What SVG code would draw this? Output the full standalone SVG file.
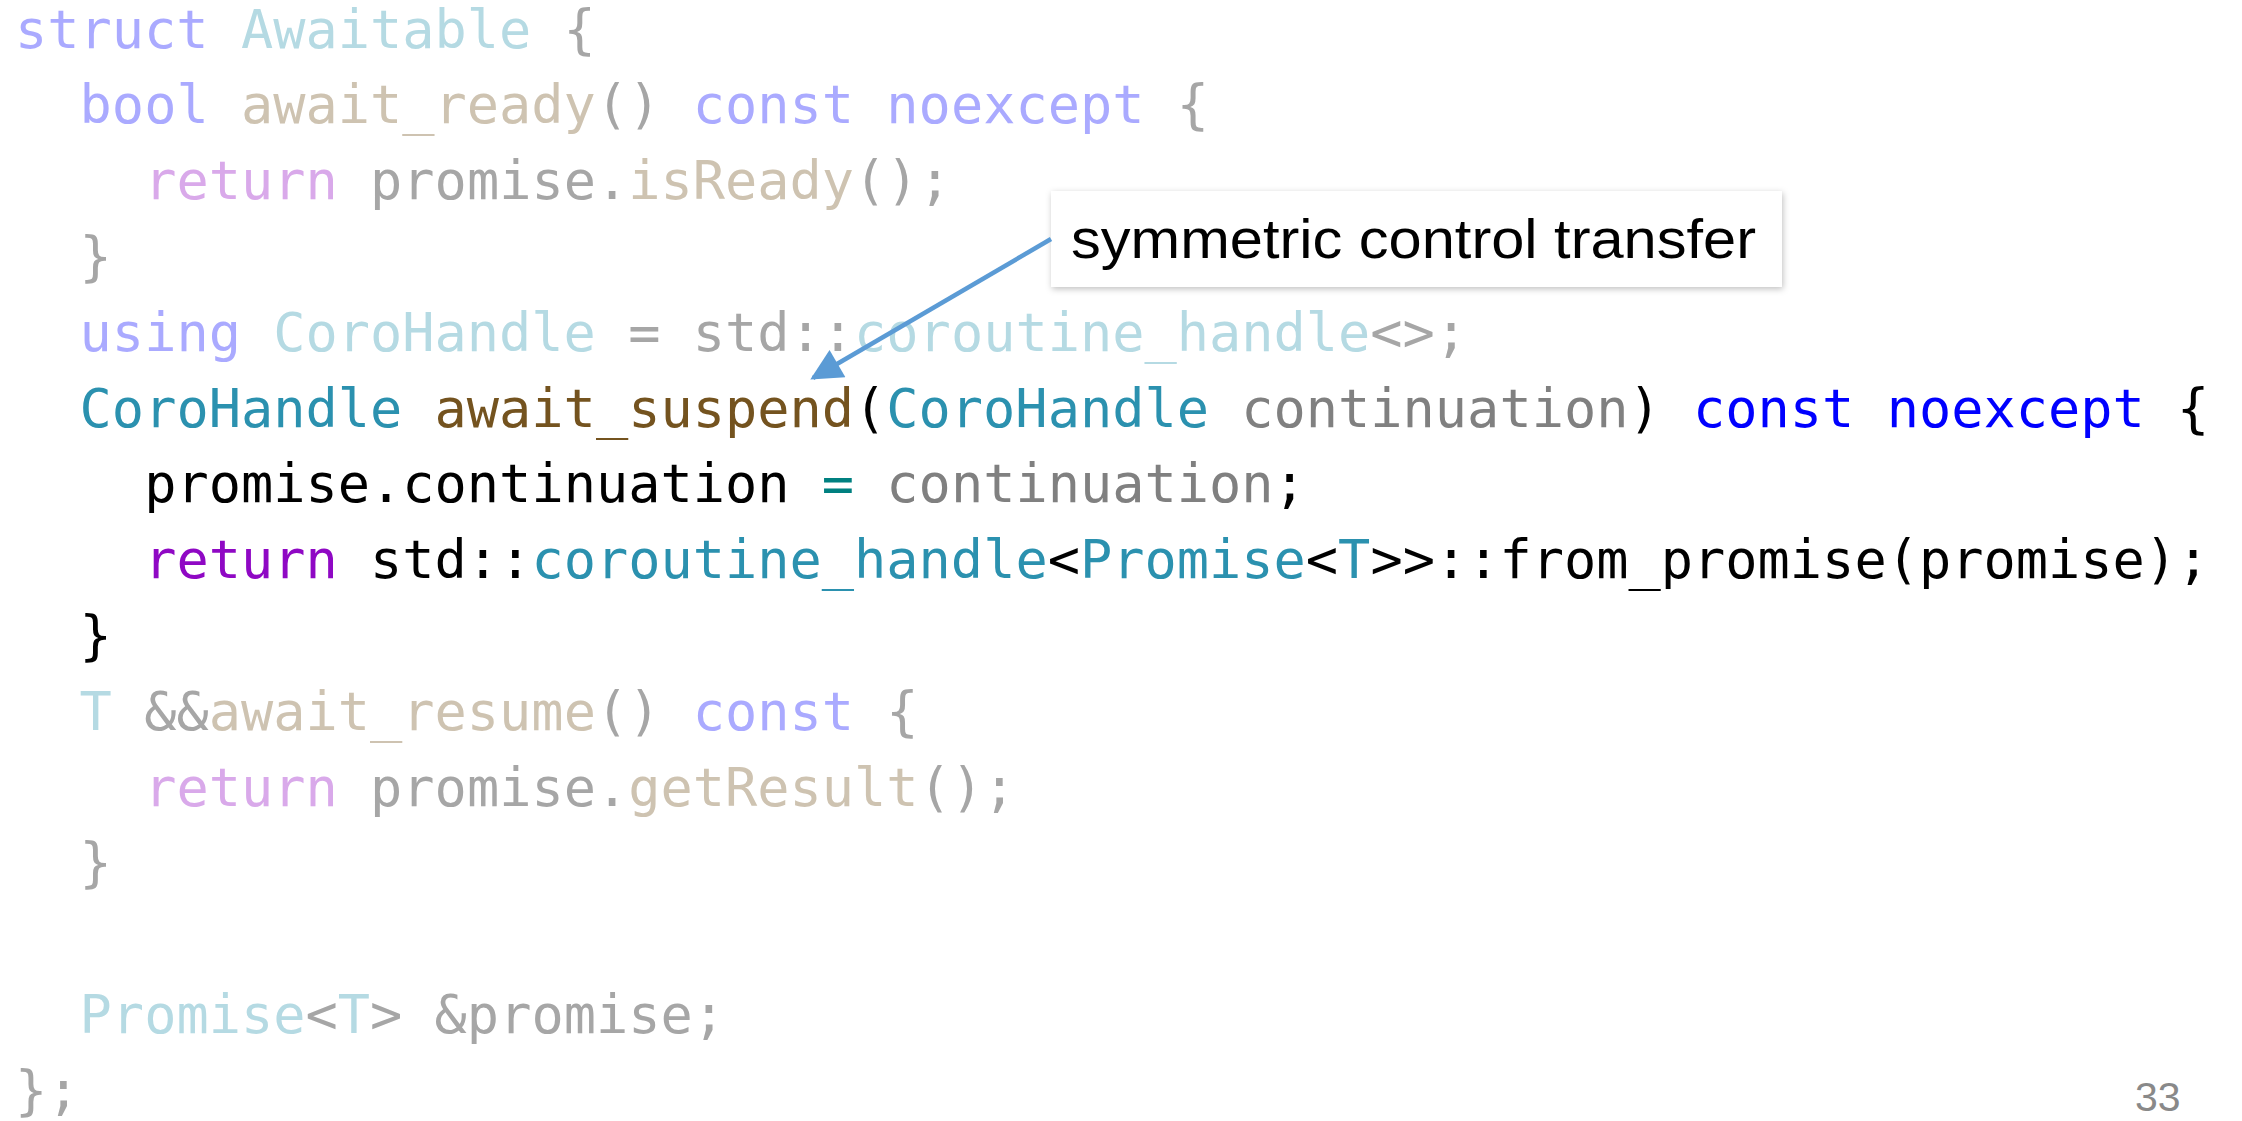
<svg xmlns="http://www.w3.org/2000/svg" width="2242" height="1121" viewBox="0 0 2242 1121" xml:space="preserve">
<style>
.code{font-family:"DejaVu Sans Mono","Liberation Mono",monospace;font-size:53.6px;fill:#000000;white-space:pre}
.k{fill:#aaaaff}.t{fill:#b5dae3}.f{fill:#cec3b1}.g{fill:#a6a6a6}.r{fill:#d9a9ea}
.K{fill:#0000ff}.T{fill:#2b91af}.F{fill:#74531f}.R{fill:#8f08c4}.p{fill:#808080}.o{fill:#008080}
.callout-text{font-family:"Liberation Sans",Arial,sans-serif;font-size:56px;fill:#000000}
.pg{font-family:"Liberation Sans",Arial,sans-serif;font-size:41px;fill:#898989}
</style>
<defs>
<marker id="arrow" viewBox="0 0 10 10" refX="9" refY="5" markerWidth="7.5" markerHeight="7" orient="auto" markerUnits="strokeWidth">
<path d="M0,0 L10,5 L0,10 z" fill="#5b9bd5"/>
</marker>
<filter id="shadow" x="-5%" y="-20%" width="110%" height="140%">
<feDropShadow dx="1" dy="2" stdDeviation="3" flood-color="#000000" flood-opacity="0.25"/>
</filter>
</defs>
<rect width="2242" height="1121" fill="#ffffff"/>
<g id="code" class="code">
<text x="15" y="47.5"><tspan class="k">struct</tspan> <tspan class="t">Awaitable</tspan> <tspan class="g">{</tspan></text>
<text x="79.6" y="123.3"><tspan class="k">bool</tspan> <tspan class="f">await_ready</tspan><tspan class="g">()</tspan> <tspan class="k">const</tspan> <tspan class="k">noexcept</tspan> <tspan class="g">{</tspan></text>
<text x="144.2" y="199.1"><tspan class="r">return</tspan> <tspan class="g">promise.</tspan><tspan class="f">isReady</tspan><tspan class="g">();</tspan></text>
<text x="79.6" y="274.9"><tspan class="g">}</tspan></text>
<text x="79.6" y="350.7"><tspan class="k">using</tspan> <tspan class="t">CoroHandle</tspan> <tspan class="g">=</tspan> <tspan class="g">std::</tspan><tspan class="t">coroutine_handle</tspan><tspan class="g">&lt;&gt;;</tspan></text>
<text x="79.6" y="426.5"><tspan class="T">CoroHandle</tspan> <tspan class="F">await_suspend</tspan>(<tspan class="T">CoroHandle</tspan> <tspan class="p">continuation</tspan>) <tspan class="K">const</tspan> <tspan class="K">noexcept</tspan> {</text>
<text x="144.2" y="502.3">promise.continuation <tspan class="o">=</tspan> <tspan class="p">continuation</tspan>;</text>
<text x="144.2" y="578.1"><tspan class="R">return</tspan> std::<tspan class="T">coroutine_handle</tspan>&lt;<tspan class="T">Promise</tspan>&lt;<tspan class="T">T</tspan>&gt;&gt;::from_promise(promise);</text>
<text x="79.6" y="653.9">}</text>
<text x="79.6" y="729.7"><tspan class="t">T</tspan> <tspan class="g">&amp;&amp;</tspan><tspan class="f">await_resume</tspan><tspan class="g">()</tspan> <tspan class="k">const</tspan> <tspan class="g">{</tspan></text>
<text x="144.2" y="805.5"><tspan class="r">return</tspan> <tspan class="g">promise.</tspan><tspan class="f">getResult</tspan><tspan class="g">();</tspan></text>
<text x="79.6" y="881.3"><tspan class="g">}</tspan></text>
<text x="79.6" y="1032.9"><tspan class="t">Promise</tspan><tspan class="g">&lt;</tspan><tspan class="t">T</tspan><tspan class="g">&gt;</tspan> <tspan class="g">&amp;promise;</tspan></text>
<text x="15" y="1108.7"><tspan class="g">};</tspan></text>
</g>
<g id="callout">
<rect x="1051" y="191" width="731" height="96" fill="#ffffff" filter="url(#shadow)"/>
<text class="callout-text" x="1071" y="258" textLength="685" lengthAdjust="spacingAndGlyphs">symmetric control transfer</text>
</g>
<g id="connectors">
<line x1="1051" y1="239" x2="813" y2="378" stroke="#5b9bd5" stroke-width="4.5" marker-end="url(#arrow)"/>
</g>
<g id="page-number">
<text class="pg" x="2135" y="1111">33</text>
</g>
</svg>
